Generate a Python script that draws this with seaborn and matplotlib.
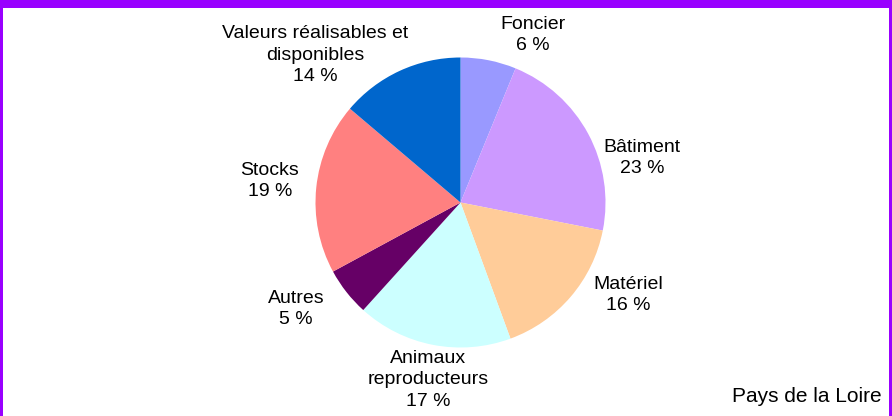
import matplotlib
matplotlib.use("Agg")
import matplotlib.pyplot as plt
import seaborn as sns
from matplotlib.patches import Rectangle

categories = ["Foncier", "Bâtiment", "Matériel", "Animaux\nreproducteurs",
              "Autres", "Stocks", "Valeurs réalisables et\ndisponibles"]
shares = [6.2, 21.9, 16.3, 17.3, 5.4, 19.1, 13.8]
pct_labels = ["6 %", "23 %", "16 %", "17 %", "5 %", "19 %", "14 %"]
colors = ["#9999FF", "#CC99FF", "#FFCC99", "#CCFFFF", "#660066", "#FF8080", "#0066CC"]
# label anchor positions (pixels in the 892x416 image)
label_px = [(533, 35), (642, 158), (628, 295), (428, 380), (296, 309), (270, 181), (315, 55)]

sns.set_theme(style="white")
plt.rcParams["font.family"] = ["Liberation Sans", "DejaVu Sans"]

W, H = 892, 416
fig = plt.figure(figsize=(W / 100, H / 100), dpi=100)
fig.patch.set_facecolor("white")
ax = fig.add_axes([0, 0, 1, 1])
cx, cy, R = 460.5, 202.5, 145.0

ax.pie(shares, colors=colors, startangle=90, counterclock=False,
       wedgeprops=dict(linewidth=0))
ax.set_xlim(-cx / R, (W - cx) / R)
ax.set_ylim(-(H - cy) / R, cy / R)
ax.set_aspect("equal", adjustable="box")
ax.axis("off")

for cat, pct, (px, py) in zip(categories, pct_labels, label_px):
    ax.text((px - cx) / R, (cy - py) / R, f"{cat}\n{pct}", ha="center", va="center",
            fontsize=14, linespacing=1.36, color="black")

ax.text((882 - cx) / R, (cy - 397) / R, "Pays de la Loire", ha="right", va="center",
        fontsize=15, color="black")

purple = "#9900FF"
for (x0, y0, w, h) in [(0, 0, 3, H), (W - 3, 0, 3, H), (0, H - 8, W, 8)]:
    fig.patches.append(Rectangle((x0 / W, y0 / H), w / W, h / H, transform=fig.transFigure,
                                 facecolor=purple, edgecolor="none", zorder=10))

fig.savefig("out.png", dpi=100)
